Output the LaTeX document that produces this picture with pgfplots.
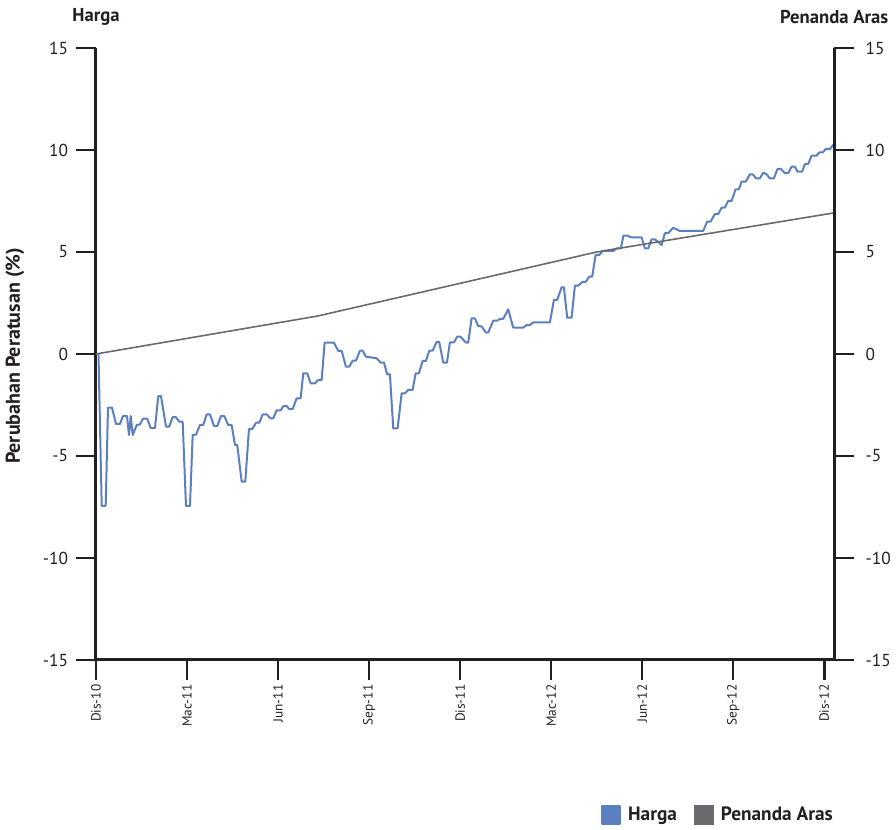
\documentclass[border=0pt]{standalone}
\usepackage{fontspec}
\setmainfont{PT Sans}
\usepackage{pgfplots}
\usepackage{pgfplotstable}
\pgfplotsset{compat=1.18}
\definecolor{hblue}{RGB}{91,127,191}
\definecolor{bgray}{RGB}{105,106,109}
\definecolor{axdark}{RGB}{35,31,32}

% Harga: px = horizontal position, val = % change
\pgfplotstableread{
px val
98.5 0
101.7 -7.44
105.7 -7.44
108 -2.63
112 -2.63
116 -3.43
120 -3.43
123 -3.04
127 -3.04
129 -3.97
130.7 -3.04
132.7 -3.97
136.7 -3.48
140 -3.45
143 -3.17
147.3 -3.17
150.7 -3.63
155 -3.63
158.3 -2.06
161 -2.06
166 -3.56
169.3 -3.56
172.7 -3.09
176 -3.10
179.3 -3.32
182.7 -3.32
186 -7.45
190 -7.45
192.7 -3.97
196 -3.95
200 -3.48
203.3 -3.48
206.7 -2.96
210 -2.96
214 -3.53
217.3 -3.53
221 -3.04
224.3 -3.04
228.3 -3.48
231.7 -3.48
235 -4.46
237.3 -4.46
241.7 -6.26
245.3 -6.26
249 -3.68
252.3 -3.68
256 -3.37
259.3 -3.37
262.7 -2.96
266.7 -2.96
270.3 -3.15
273.3 -3.15
276.7 -2.76
280.7 -2.76
283.5 -2.55
286.7 -2.55
289.3 -2.70
292.7 -2.70
296.7 -2.17
300.7 -2.17
303.3 -0.95
307.3 -0.95
310.7 -1.44
315 -1.44
318.3 -1.27
321.7 -1.27
324.7 0.56
334 0.56
338.3 0.15
341.7 0.15
346 -0.62
349.3 -0.62
352.7 -0.33
356 -0.33
360 0.16
362.7 0.16
366 -0.13
376.7 -0.21
380.7 -0.42
384 -0.42
387.3 -1.00
390 -1.00
393.3 -3.64
397.7 -3.64
401.7 -1.93
405 -1.93
408.3 -1.76
412.7 -1.76
415.7 -0.95
419 -0.95
422.7 -0.34
426 -0.34
429.3 0.16
432.7 0.16
436.7 0.59
439.3 0.59
443.3 -0.42
447 -0.42
450 0.57
454 0.57
457.3 0.85
460.5 0.85
466 0.56
468.3 0.56
471.7 1.75
475 1.75
478.3 1.37
481.7 1.35
486 1.05
488.3 1.05
493.3 1.63
497.3 1.63
500 1.72
503.3 1.72
508.3 2.19
513.3 1.29
523.3 1.29
526.7 1.42
530 1.42
533.3 1.55
550 1.55
554 2.65
557.3 2.65
561.7 3.27
564 3.27
567.3 1.78
571.7 1.78
575 3.35
578.3 3.35
582.7 3.54
586 3.54
589.3 3.79
592.3 3.79
595.7 4.85
599.3 4.85
602.7 5.05
613.3 5.05
616.7 5.18
621 5.18
623.5 5.80
628 5.80
631 5.72
641.7 5.72
645 5.18
648.3 5.18
651.7 5.62
655 5.62
658.3 5.50
661.7 5.34
665 5.92
668.3 5.92
673.3 6.19
680 6.03
703.3 6.03
707.3 6.49
710.7 6.49
715 6.86
718.3 6.86
721.7 7.17
725 7.17
728.3 7.50
731.7 7.50
735.7 8.07
739 8.07
741.7 8.45
746 8.45
750 8.81
753 8.81
756 8.61
760 8.61
763.3 8.89
766.7 8.81
770 8.61
774 8.61
777.7 9.07
781 9.07
785 8.86
788.3 8.86
791.7 9.18
795 9.18
797.7 8.94
802.3 8.94
805 9.31
808.3 9.31
811.7 9.72
816.7 9.72
819.3 9.88
822.7 9.88
826 10.05
830 10.05
833.3 10.25
835 10.30
}\hargadata

% Penanda Aras: months since Dis-10
\pgfplotstableread{
m val
0 0
7.3 1.86
16.5 5.00
24.33 6.92
}\arasdata

\begin{document}
\begin{tikzpicture}
\pgfplotsset{
  common/.style={
    width=553.7pt, height=459pt, scale only axis,
    xmin=0, xmax=24.33, ymin=-15, ymax=15,
    ytick={-15,-10,...,15},
    tick align=outside, major tick length=15pt,
    every tick/.append style={axdark, line width=1.9pt},
    axis line style={axdark, line width=2.25pt, -},
    /pgf/number format/assume math mode=true,
    tick label style={font=\fontsize{13}{15}\selectfont, text=axdark},
  }
}
\begin{axis}[common, at={(0,0)}, anchor=south west,
  axis x line*=bottom, axis y line*=left,
  yticklabel style={xshift=-2.5pt},
  xtick={0,3,...,24},
  xticklabels={Dis-10,Mac-11,Jun-11,Sep-11,Dis-11,Mac-12,Jun-12,Sep-12,Dis-12},
  x tick label style={rotate=90, anchor=east, font=\fontsize{10}{12}\selectfont},
  legend columns=2,
  legend image code/.code={\fill[#1] (0pt,-6.85pt) rectangle (13.7pt,6.85pt);},
  legend style={at={(0.683,-0.2533)}, anchor=west, draw=none, fill=none,
    inner sep=0pt, font=\fontsize{14.5}{16}\selectfont\bfseries, text=axdark,
    nodes={inner sep=0pt, anchor=west},
    column sep=5.5pt,
    /tikz/every even column/.append style={column sep=12.5pt}},
]
\addplot[hblue, line width=1.5pt, line join=round] table[x expr={(\thisrowno{0}-96)/30.35}, y index=1] {\hargadata};
\addlegendentry{Harga}
\addplot[bgray, line width=1.2pt] table[x index=0, y index=1] {\arasdata};
\addlegendentry{Penanda Aras}
\end{axis}
\begin{axis}[common, at={(0,0)}, anchor=south west,
  axis x line=none, axis y line*=right,
  yticklabel style={anchor=west, xshift=5pt},
]
\addplot[draw=none] coordinates {(0,0)};
\end{axis}
\node[font=\fontsize{14}{16}\selectfont\bfseries, text=axdark] at (0pt,482.25pt) {Harga};
\node[font=\fontsize{14}{16}\selectfont\bfseries, text=axdark] at (553.7pt,482.25pt) {Penanda Aras};
\node[font=\fontsize{15}{17}\selectfont\bfseries, text=axdark, rotate=90] at (-60.75pt,228pt) {Perubahan Peratusan (\%)};
\pgfresetboundingbox
\path[use as bounding box] (-72pt,-127.5pt) rectangle (600pt,495pt);
\end{tikzpicture}
\end{document}
